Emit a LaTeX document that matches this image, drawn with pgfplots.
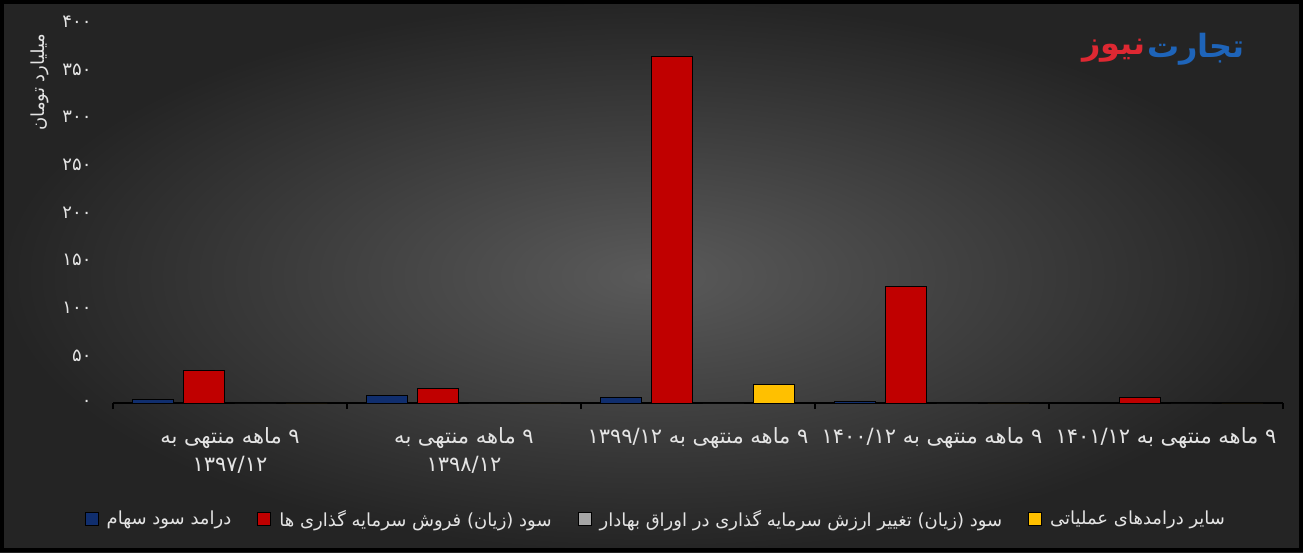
\documentclass[border=0pt]{standalone}
\usepackage{fontspec}
\usepackage{pgfplots}
\pgfplotsset{compat=1.18}
\setmainfont{DejaVu Sans}
\newfontfamily\arabicfont[Script=Arabic]{DejaVu Sans}
\TeXXeTstate=1
\definecolor{bgin}{RGB}{90,90,90}
\definecolor{bgout}{RGB}{36,36,36}
\definecolor{cblue}{RGB}{16,46,110}
\definecolor{cred}{RGB}{192,0,0}
\definecolor{cgray}{RGB}{165,165,165}
\definecolor{cyellow}{RGB}{255,192,0}
\definecolor{txt}{RGB}{228,228,228}
\definecolor{logob}{RGB}{30,100,185}
\definecolor{logor}{RGB}{222,40,50}
\begin{document}
\begin{tikzpicture}[x=1pt,y=1pt]
\shade[inner color=bgin, outer color=bgout] (0,0) rectangle (1303,552);
\draw[black, line width=4pt] (2,2) rectangle (1301,550);
\node[rotate=90, text=txt, font=\arabicfont\fontsize{18}{20}\selectfont] at (40,470) {\beginR میلیارد تومان\endR};
\node[text=logob, font=\arabicfont\bfseries\fontsize{32}{34}\selectfont, inner sep=0pt] at (1196,503) {تجارت};
\node[text=logor, font=\arabicfont\bfseries\fontsize{32}{34}\selectfont, inner sep=0pt] at (1114,501) {نیوز};
\begin{axis}[
  at={(113pt,149pt)}, anchor=south west,
  scale only axis, width=1170pt, height=381pt,
  ybar=10pt, bar width=41pt,
  xmin=-0.5, xmax=4.5, ymin=0, ymax=400,
  axis lines*=left,
  y axis line style={draw=none},
  x axis line style={black, line width=1.2pt},
  ytick={0,50,...,400},
  yticklabels={۰,۵۰,۱۰۰,۱۵۰,۲۰۰,۲۵۰,۳۰۰,۳۵۰,۴۰۰},
  ytick style={draw=none},
  yticklabel style={text=txt, font=\arabicfont\fontsize{18}{20}\selectfont, xshift=-18pt},
  xtick={0,1,2,3,4},
  xticklabels={{\beginR ۹ ماهه منتهی به\endR\\۱۳۹۷/۱۲},{\beginR ۹ ماهه منتهی به\endR\\۱۳۹۸/۱۲},{\beginR ۹ ماهه منتهی به ۱۳۹۹/۱۲\endR},{\beginR ۹ ماهه منتهی به ۱۴۰۰/۱۲\endR},{\beginR ۹ ماهه منتهی به ۱۴۰۱/۱۲\endR}},
  major x tick style={draw=none},
  xticklabel style={text=txt, font=\arabicfont\fontsize{21}{28}\selectfont, align=center, yshift=-17pt},
  extra x ticks={-0.5,0.5,1.5,2.5,3.5,4.5},
  extra x tick labels={},
  extra x tick style={major tick length=6pt, tick align=outside, major x tick style={draw=black, line width=1.2pt}},
  clip=false,
  legend style={at={(0.464,-0.304)}, anchor=center, legend columns=4, draw=none, fill=none, text=txt,
    font=\arabicfont\fontsize{18}{20}\selectfont,
    /tikz/every odd column/.append style={column sep=6pt},
    /tikz/every even column/.append style={column sep=24pt}},
  legend image code/.code={\draw[#1, draw=black, line width=1pt] (0pt,-6.5pt) rectangle (13pt,6.5pt);},
]
\addplot[fill=cblue, draw=black, line width=1pt] coordinates {(0,3.9) (1,8) (2,6) (3,1.8) (4,1)};
\addlegendentry{\beginR درامد سود سهام\endR}
\addplot[fill=cred, draw=black, line width=1pt] coordinates {(0,33.6) (1,15) (2,364) (3,121.8) (4,6)};
\addlegendentry{\beginR سود (زیان) فروش سرمایه گذاری ها\endR}
\addplot[fill=cgray, draw=black, line width=1pt] coordinates {(0,0) (1,0) (2,0) (3,0) (4,0)};
\addlegendentry{\beginR سود (زیان) تغییر ارزش سرمایه گذاری در اوراق بهادار\endR}
\addplot[fill=cyellow, draw=black, line width=1pt] coordinates {(0,0) (1,0) (2,18.9) (3,0) (4,0)};
\addlegendentry{\beginR سایر درامدهای عملیاتی\endR}
\end{axis}
\end{tikzpicture}
\end{document}
